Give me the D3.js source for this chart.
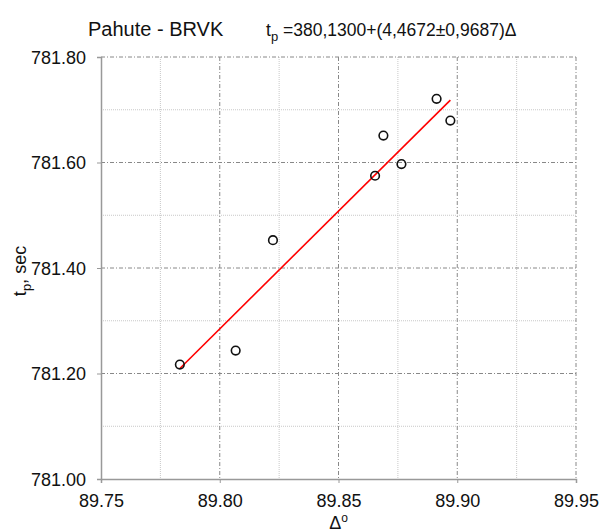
<!DOCTYPE html>
<html>
<head>
<meta charset="utf-8">
<script src="https://cdn.jsdelivr.net/npm/d3@7"></script>
<style>
  body { margin: 0; background: #fff; }
  svg { font-family: "Liberation Sans", Arial, sans-serif; }
</style>
</head>
<body>
<svg id="chart" width="601" height="532"></svg>
<script>
// data
const delta = [89.7832, 89.8067, 89.8224, 89.8654, 89.8689, 89.8765, 89.8913, 89.8971];
const tp = [781.217, 781.2435, 781.4527, 781.5749, 781.651, 781.597, 781.7207, 781.6795];
const fitIntercept = 380.1300;
const fitSlope = 4.4672;
const xTicks = [89.75, 89.80, 89.85, 89.90, 89.95];
const yTicks = [781.00, 781.20, 781.40, 781.60, 781.80];

const svg = d3.select('#chart');
const plot = { left: 101, right: 576, top: 57, bottom: 479 };

const x = d3.scaleLinear().domain([89.75, 89.95]).range([plot.left, plot.right]);
const y = d3.scaleLinear().domain([781.00, 781.80]).range([plot.bottom, plot.top]);

// minor grid (dotted)
svg.append('g').selectAll('line')
  .data([89.775, 89.825, 89.875, 89.925])
  .enter().append('line')
  .attr('x1', d => x(d)).attr('x2', d => x(d))
  .attr('y1', plot.top).attr('y2', plot.bottom)
  .style('stroke', '#c8c8c8').style('stroke-dasharray', '1,1');
svg.append('g').selectAll('line')
  .data([781.10, 781.30, 781.50, 781.70])
  .enter().append('line')
  .attr('x1', plot.left).attr('x2', plot.right)
  .attr('y1', d => y(d)).attr('y2', d => y(d))
  .style('stroke', '#c8c8c8').style('stroke-dasharray', '1,1');

// major grid (dashed)
svg.append('g').selectAll('line')
  .data(xTicks.slice(1))
  .enter().append('line')
  .attr('x1', d => x(d)).attr('x2', d => x(d))
  .attr('y1', plot.top).attr('y2', plot.bottom)
  .style('stroke', '#888').style('stroke-dasharray', '4,2,1,2');
svg.append('g').selectAll('line')
  .data(yTicks.slice(1))
  .enter().append('line')
  .attr('x1', plot.left).attr('x2', plot.right)
  .attr('y1', d => y(d)).attr('y2', d => y(d))
  .style('stroke', '#888').style('stroke-dasharray', '4,2,1,2');

// axes
const xAxis = svg.append('g')
  .attr('transform', `translate(0,${plot.bottom})`)
  .call(d3.axisBottom(x).tickValues(xTicks).tickFormat(d3.format('.2f')).tickSize(4).tickPadding(11));
const yAxis = svg.append('g')
  .attr('transform', `translate(${plot.left},0)`)
  .call(d3.axisLeft(y).tickValues(yTicks).tickFormat(d3.format('.2f')).tickSize(4).tickPadding(11));
[xAxis, yAxis].forEach(a => {
  a.select('.domain').style('stroke', '#999').style('stroke-width', 1.5);
  a.selectAll('.tick line').style('stroke', '#999');
  a.selectAll('.tick text').style('font-size', '18px').style('fill', '#111')
    .style('font-family', '"Liberation Sans", Arial, sans-serif');
});
yAxis.selectAll('.tick text').attr('dy', '0.35em');

// fit line
const fitX = d3.extent(delta);
svg.append('line')
  .attr('x1', x(fitX[0])).attr('y1', y(fitIntercept + fitSlope * fitX[0]))
  .attr('x2', x(fitX[1])).attr('y2', y(fitIntercept + fitSlope * fitX[1]))
  .style('stroke', '#f00').style('stroke-width', 1.6);

// points
svg.append('g').selectAll('circle')
  .data(delta.map((d, i) => [d, tp[i]]))
  .enter().append('circle')
  .attr('cx', d => x(d[0])).attr('cy', d => y(d[1]))
  .attr('r', 4.3)
  .style('fill', 'none').style('stroke', '#111').style('stroke-width', 1.6);

// title
svg.append('text').attr('x', 88).attr('y', 36)
  .style('font-size', '20px').style('fill', '#111').text('Pahute - BRVK');
const eq = svg.append('text').attr('x', 266).attr('y', 36)
  .style('font-size', '17.5px').style('fill', '#111');
eq.append('tspan').text('t');
eq.append('tspan').attr('dy', 5).style('font-size', '13px').text('p');
eq.append('tspan').attr('dy', -5).text(' =380,1300+(4,4672±0,9687)Δ');

// axis labels
const xl = svg.append('text').attr('x', x(89.85)).attr('y', 529)
  .attr('text-anchor', 'middle').style('font-size', '18px').style('fill', '#111');
xl.append('tspan').text('Δ');
xl.append('tspan').attr('dy', -7).style('font-size', '12px').text('o');

const yl = svg.append('text')
  .attr('transform', `translate(26,271) rotate(-90)`)
  .attr('text-anchor', 'middle').style('font-size', '18px').style('fill', '#111');
yl.append('tspan').text('t');
yl.append('tspan').attr('dy', 5).style('font-size', '13px').text('p');
yl.append('tspan').attr('dy', -5).text(', sec');
</script>
</body>
</html>
